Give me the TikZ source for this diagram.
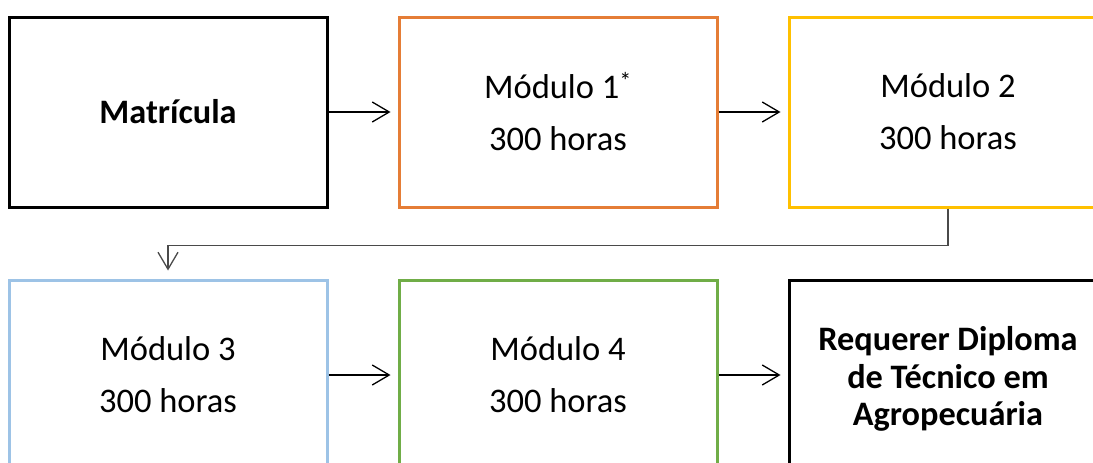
\documentclass[tikz,border=0pt]{standalone}
\usepackage{fontspec}
\setmainfont{Carlito}
\usetikzlibrary{arrows.meta}
\definecolor{boxorange}{HTML}{E57D36}
\definecolor{boxyellow}{HTML}{FFC000}
\definecolor{boxblue}{HTML}{9DC3E6}
\definecolor{boxgreen}{HTML}{70AD47}
\definecolor{linkgray}{HTML}{4A4A4A}
\tikzset{
  stagebox/.style={draw, line width=3pt, rectangle, minimum width=318pt,
    minimum height=190pt, align=center, inner sep=0pt,
    font=\fontsize{34.5}{52}\selectfont},
  boldbox/.style={stagebox, font=\fontsize{34.3}{37.5}\selectfont\bfseries},
  flow/.style={draw, line width=1.3pt,
    -{Straight Barb[length=17pt,width=20pt,line width=1.3pt]}},
}
\begin{document}
\begin{tikzpicture}
\useasboundingbox (0pt,0pt) rectangle (1093pt,-463pt);
\clip (0pt,0pt) rectangle (1093pt,-463pt);
\node[stagebox, boldbox, font=\fontsize{34.3}{40}\selectfont\bfseries] (mat) at (168pt,-112pt) {Matrícula};
\node[stagebox, draw=boxorange] (m1) at (558pt,-112pt) {Módulo 1\textsuperscript{*}\\300 horas};
\node[stagebox, draw=boxyellow] (m2) at (948pt,-112pt) {Módulo 2\\300 horas};
\node[stagebox, draw=boxblue] (m3) at (168pt,-375pt) {Módulo 3\\300 horas};
\node[stagebox, draw=boxgreen] (m4) at (558pt,-375pt) {Módulo 4\\300 horas};
% taller box (cut off below) keeps the top edge in line and lowers the text a little
\node[boldbox, minimum height=198pt] (dip) at (948pt,-379pt) {Requerer Diploma\\de Técnico em\\Agropecuária};
\draw[flow, shorten >=7pt] (mat) -- (m1);
\draw[flow, shorten >=7pt] (m1) -- (m2);
\draw[flow, draw=linkgray, line width=1.8pt, shorten >=8pt] (m2.south) -- ++(0pt,-37pt) -| (m3.north);
\draw[flow, shorten >=7pt] (m3) -- (m4);
\draw[flow, shorten >=7pt] (m4) -- (dip.west |- m4.east);
\end{tikzpicture}
\end{document}
